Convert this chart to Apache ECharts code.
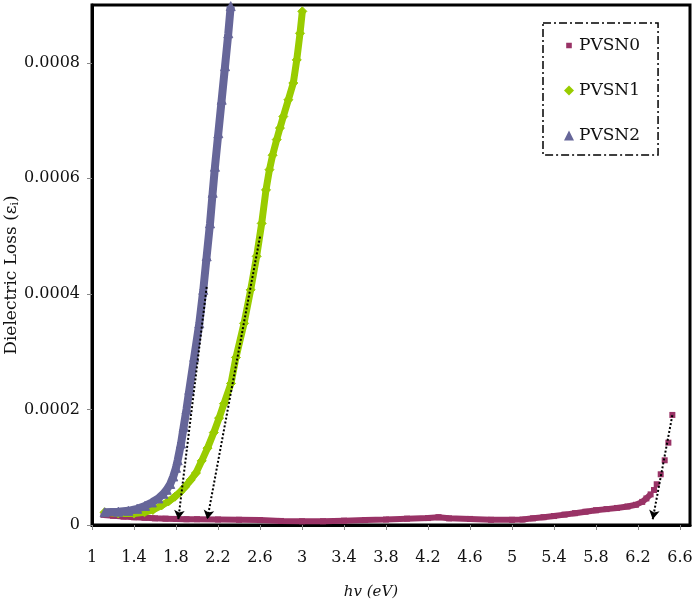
<!DOCTYPE html>
<html>
<head>
<meta charset="utf-8">
<script src="https://cdn.jsdelivr.net/npm/echarts@6/dist/echarts.min.js"></script>
<style>html,body{margin:0;padding:0;background:#fff;}#c{width:700px;height:610px;}</style>
</head>
<body>
<div id="c"></div>
<script>
// ---- data (hv in eV, dielectric loss) ----
var seriesNames = ['PVSN0', 'PVSN1', 'PVSN2'];
var pvsn0 = [
  [1.11, 1.75e-5], [1.2, 1.6e-5], [1.3, 1.45e-5], [1.4, 1.35e-5], [1.5, 1.25e-5], [1.6, 1.15e-5],
  [1.7, 1.1e-5], [1.8, 1.05e-5], [1.9, 1.0e-5], [2.0, 1.0e-5], [2.2, 9.5e-6], [2.4, 9.0e-6],
  [2.6, 8.5e-6], [2.8, 7.0e-6], [3.0, 6.5e-6], [3.2, 6.5e-6], [3.4, 7.5e-6], [3.6, 8.5e-6],
  [3.8, 9.5e-6], [4.0, 1.1e-5], [4.2, 1.2e-5], [4.3, 1.35e-5], [4.4, 1.15e-5], [4.6, 1.05e-5],
  [4.8, 9.0e-6], [5.0, 9.0e-6], [5.1, 9.5e-6], [5.2, 1.15e-5], [5.3, 1.35e-5], [5.4, 1.55e-5],
  [5.5, 1.8e-5], [5.6, 2.05e-5], [5.7, 2.3e-5], [5.8, 2.55e-5], [5.9, 2.75e-5], [6.0, 2.95e-5],
  [6.1, 3.2e-5], [6.18, 3.5e-5], [6.24, 4.0e-5], [6.28, 4.6e-5], [6.32, 5.3e-5], [6.352, 6.06e-5],
  [6.378, 7.05e-5], [6.416, 8.78e-5], [6.454, 1.12e-4], [6.489, 1.425e-4], [6.527, 1.905e-4]
];
var pvsn1 = [
  [1.12, 2.2e-5], [1.25, 2.0e-5], [1.4, 2.0e-5], [1.5, 2.2e-5], [1.58, 2.6e-5], [1.664, 3.4e-5],
  [1.73, 4.1e-5], [1.79, 4.9e-5], [1.84, 5.7e-5], [1.886, 6.6e-5], [1.94, 7.8e-5], [1.99, 9.0e-5],
  [2.045, 1.11e-4], [2.1, 1.33e-4], [2.16, 1.6e-4], [2.21, 1.85e-4], [2.257, 2.1e-4], [2.324, 2.45e-4],
  [2.371, 2.9e-4], [2.448, 3.49e-4], [2.511, 4.07e-4], [2.568, 4.65e-4], [2.616, 5.22e-4], [2.657, 5.8e-4],
  [2.69, 6.15e-4], [2.72, 6.4e-4], [2.759, 6.67e-4], [2.79, 6.87e-4], [2.822, 7.07e-4], [2.87, 7.36e-4],
  [2.917, 7.65e-4], [2.95, 8.05e-4], [2.981, 8.51e-4], [3.003, 8.89e-4]
];
var pvsn2 = [
  [1.12, 2.2e-5], [1.25, 2.3e-5], [1.346, 2.45e-5], [1.43, 2.8e-5], [1.505, 3.3e-5], [1.57, 3.9e-5],
  [1.632, 4.6e-5], [1.68, 5.4e-5], [1.711, 6.1e-5], [1.745, 7.1e-5], [1.774, 8.4e-5], [1.8, 9.9e-5],
  [1.816, 1.12e-4], [1.848, 1.41e-4], [1.873, 1.7e-4], [1.9, 2.0e-4], [1.927, 2.34e-4], [1.974, 2.91e-4],
  [2.022, 3.49e-4], [2.06, 4.07e-4], [2.092, 4.65e-4], [2.124, 5.22e-4], [2.149, 5.75e-4], [2.171, 6.2e-4],
  [2.203, 6.78e-4], [2.235, 7.36e-4], [2.267, 7.94e-4], [2.298, 8.51e-4], [2.321, 8.98e-4]
];
// tangent (extrapolation) lines: [x1, y1, x2, y2]
var tangents = [
  [2.092, 4.12e-4, 1.822, 1.0e-5],
  [2.6, 4.99e-4, 2.098, 1.0e-5],
  [6.527, 1.9e-4, 6.34, 1.0e-5]
];
var xTicks = [1, 1.4, 1.8, 2.2, 2.6, 3, 3.4, 3.8, 4.2, 4.6, 5, 5.4, 5.8, 6.2, 6.6];
var yTicks = [0, 0.0002, 0.0004, 0.0006, 0.0008];

// ---- chart ----
var FONT = 'DejaVu Serif';
var C0 = '#993366', C1 = '#99CC00', C2 = '#666699';
var chart = echarts.init(document.getElementById('c'), null, {renderer: 'canvas'});
var option = {
  animation: false,
  backgroundColor: '#fff',
  grid: {left: 92, right: 10, top: 5, bottom: 85, containLabel: false, outerBoundsMode: 'none',
         show: true, borderColor: '#000', borderWidth: 3, backgroundColor: 'transparent'},
  legend: {
    orient: 'vertical', left: 543, top: 23,
    padding: [14, 18, 11, 21], itemGap: 28, itemWidth: 10, itemHeight: 10, itemTextGap: 8,
    borderColor: '#000', borderWidth: 1.5, borderType: [8, 3, 2, 3],
    textStyle: {fontFamily: FONT, fontSize: 17, color: '#111'},
    data: [
      {name: 'PVSN0', icon: 'path://M0,0h0.01v0.01h-0.01zM2.2,2.2h5.6v5.6h-5.6zM9.99,9.99h0.01v0.01h-0.01z'},
      {name: 'PVSN1', icon: 'diamond'},
      {name: 'PVSN2', icon: 'triangle'}
    ]
  },
  xAxis: {
    type: 'value', min: 1, max: 6.695,
    name: 'hv (eV)', nameLocation: 'middle', nameGap: 60, nameMoveOverlap: false,
    nameTextStyle: {fontFamily: FONT, fontStyle: 'italic', fontSize: 15, color: '#111', padding: [0, 40, 0, 0]},
    axisLine: {show: true, lineStyle: {color: '#000', width: 3}},
    axisTick: {show: true, length: 5, customValues: xTicks, lineStyle: {color: '#888', width: 1}},
    axisLabel: {customValues: xTicks, margin: 25, fontFamily: FONT, fontSize: 16, color: '#111'},
    splitLine: {show: false}
  },
  yAxis: {
    type: 'value', min: 0, max: 0.0009,
    name: 'Dielectric Loss (ε{sub|i})', nameLocation: 'middle', nameGap: 71, nameMoveOverlap: false,
    nameTextStyle: {fontFamily: FONT, fontSize: 17, color: '#111', padding: [0, 20, 0, 0],
      rich: {sub: {fontFamily: FONT, fontSize: 11, color: '#111', verticalAlign: 'bottom', padding: [7, 0, 0, 0]}}},
    axisLine: {show: true, lineStyle: {color: '#000', width: 3}},
    axisTick: {show: true, length: 5, customValues: yTicks, lineStyle: {color: '#888', width: 1}},
    axisLabel: {customValues: yTicks, margin: 12, fontFamily: FONT, fontSize: 16, color: '#111'},
    splitLine: {show: false}
  },
  series: [
    {name: 'PVSN0', type: 'line', data: pvsn0.filter(function (p) { return p[0] < 6.34; }),
     showSymbol: false, lineStyle: {color: C0, width: 6}, itemStyle: {color: C0}, z: 2},
    {name: 'PVSN0', type: 'scatter', data: pvsn0, symbol: 'rect', symbolSize: 6, itemStyle: {color: C0, opacity: 1}, z: 2},
    {name: 'PVSN1', type: 'line', data: pvsn1, symbol: 'diamond', symbolSize: 9, showAllSymbol: true,
     lineStyle: {color: C1, width: 7}, itemStyle: {color: C1, borderColor: C1}, z: 3},
    {name: 'PVSN2', type: 'line', data: pvsn2, symbol: 'triangle', symbolSize: 9, showAllSymbol: true,
     lineStyle: {color: C2, width: 8}, itemStyle: {color: C2, borderColor: C2}, z: 4},
    {name: 'tangents', type: 'line', data: [], z: 10,
     markLine: {
       silent: true, symbol: ['none', 'arrow'], symbolSize: [8, 9], animation: false,
       label: {show: false},
       lineStyle: {color: '#000', type: 'dotted', width: 2},
       data: tangents.map(function (t) { return [{coord: [t[0], t[1]]}, {coord: [t[2], t[3]]}]; })
     }}
  ]
};
chart.setOption(option);
</script>
</body>
</html>
